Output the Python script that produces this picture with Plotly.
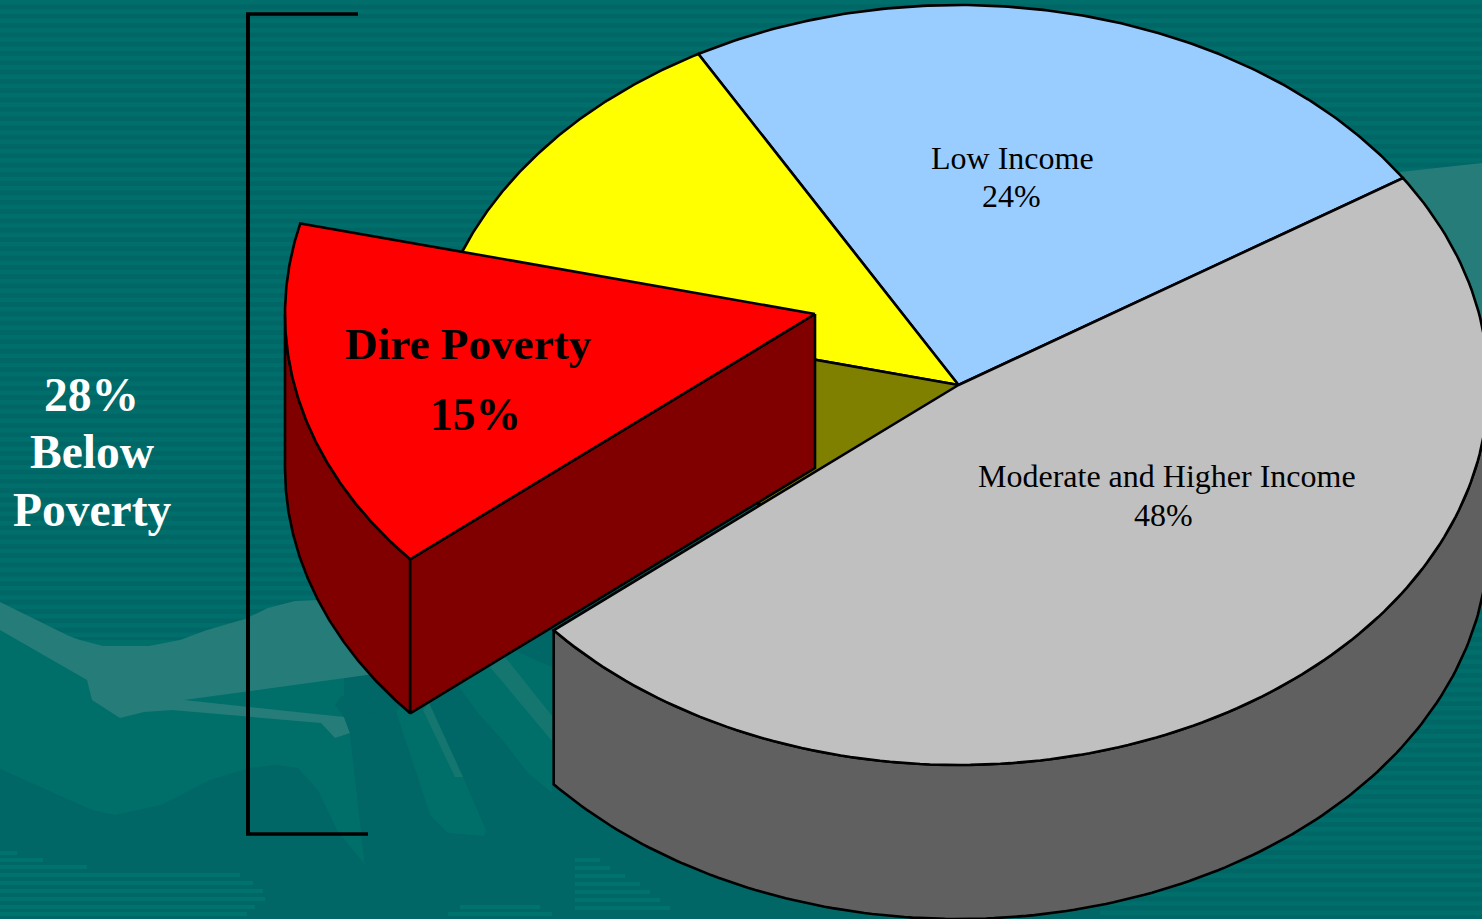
import numpy as np
import plotly.graph_objects as go

# ---- data (clockwise from the right-hand edge of the grey slice)
categories = ["Moderate and Higher Income", "Dire Poverty", "Other Below Poverty", "Low Income"]
values = [48, 15, 13, 24]
below_poverty_total = 28

top_colors = {"Moderate and Higher Income": "#C0C0C0", "Dire Poverty": "#FF0000",
              "Other Below Poverty": "#FFFF00", "Low Income": "#99CCFF"}
side_colors = {"Moderate and Higher Income": "#606060", "Dire Poverty": "#800000",
               "Other Below Poverty": "#808000", "Low Income": "#4C6680"}

# ---- projection of the tilted pie, in page pixels
CX, CY, RX, RY, DEPTH = 958.5, 385, 530, 380, 154
EXPLODE = (-143.5, -71)
START = 33.0
W, H = 1482, 919
EDGE = "#000000"

angles = {}
a = START
for c, v in zip(categories, values):
    angles[c] = (a, a - v * 3.6)
    a -= v * 3.6


def rim(a0, a1, off=(0, 0), dz=0, n=160):
    t = np.radians(np.linspace(a0, a1, n))
    return CX + off[0] + RX * np.cos(t), CY + off[1] - RY * np.sin(t) + dz


def add_poly(fig, x, y, color, lw=2.6):
    fig.add_trace(go.Scatter(x=np.r_[x, x[0]], y=np.r_[y, y[0]], mode="lines", fill="toself",
                             fillcolor=color, line=dict(color=EDGE, width=lw),
                             hoverinfo="skip", showlegend=False))


def top(fig, c, off=(0, 0)):
    a0, a1 = angles[c]
    x, y = rim(a0, a1, off)
    add_poly(fig, np.r_[CX + off[0], x], np.r_[CY + off[1], y], top_colors[c])


def outer_wall(fig, c, a0, a1, off=(0, 0)):
    x, y = rim(a0, a1, off)
    x2, y2 = rim(a1, a0, off, DEPTH)
    add_poly(fig, np.r_[x, x2], np.r_[y, y2], side_colors[c])


def cut_wall(fig, c, ang, off=(0, 0)):
    x, y = rim(ang, ang, off, n=1)
    cx, cy = CX + off[0], CY + off[1]
    add_poly(fig, np.r_[cx, x, x, cx], np.r_[cy, y, y + DEPTH, cy + DEPTH], side_colors[c])


fig = go.Figure()
grey, red, yellow, blue = categories[0], categories[1], categories[2], categories[3]

top(fig, blue)
top(fig, yellow)
cut_wall(fig, yellow, angles[yellow][0])
outer_wall(fig, grey, angles[grey][1], 0)
top(fig, grey)
outer_wall(fig, red, angles[red][0], -180, EXPLODE)
cut_wall(fig, red, angles[red][0], EXPLODE)
top(fig, red, EXPLODE)

# ---- template background
DARK, LIGHT, MID, LOW, WISP, WISP2 = "#006666", "#006E6B", "#006F6A", "#00736E", "#267C78", "#157670"


def poly_path(pts):
    return "M" + "L".join(f"{x},{y}" for x, y in pts) + "Z"


stripe_y = np.arange(0, 650, 9.3)
stripes = "".join(f"M0,{y:.1f}H{W}V{y + 4.6:.1f}H0Z" for y in stripe_y)
stripes += "".join(f"M1100,{y:.1f}H{W}V{y + 4.6:.1f}H1100Z" for y in np.arange(650.1, H, 9.3))
low_widths = [(851, 17), (858, 43), (865, 87), (873, 240), (881, 253), (889, 263), (897, 265),
              (905, 255), (912, 247)]
low_stripes = "".join(f"M0,{y}H{w}V{y + 4:.0f}H0Z" for y, w in low_widths)
low_stripes += "".join(f"M{x0},{y}H{x1}V{y + 4}H{x0}Z"
                       for y, x0, x1 in [(905, 460, 540), (912, 448, 552), (858, 575, 600),
                                         (866, 575, 610), (874, 575, 625), (882, 575, 640),
                                         (890, 575, 650), (898, 575, 660), (906, 575, 670)])

mid_low = [(0, 620), (0, 769), (92, 810), (115, 815), (161, 805), (210, 780), (249, 768),
           (276, 765), (298, 768), (318, 790), (337, 830), (365, 865), (350, 733), (344, 700),
           (344, 640), (60, 640)]
mid_ray = [(396, 712), (430, 815), (448, 833), (484, 836), (486, 830), (463, 777), (429, 703),
           (410, 690)]
mid_right = [(459, 687), (478, 713), (505, 743), (528, 773), (552, 793), (552, 625), (470, 650)]
wisp_left = [(0, 602), (69, 636), (80, 640), (103, 646), (149, 646), (180, 640), (207, 630),
             (245, 619), (268, 608), (295, 601), (318, 600), (400, 598), (400, 670), (367, 675),
             (184, 700), (344, 717), (350, 733), (335, 738), (321, 723), (172, 710), (144, 712),
             (120, 718), (92, 700), (87, 680), (0, 630)]
wisp_right = [(1400, 172), (W, 163), (W, 360), (1430, 300)]
streak_a = [(505, 657), (552, 716), (552, 741), (490, 667)]
streak_b = [(423, 710), (455, 777), (463, 777), (429, 703)]
dark_wedge = [(505, 640), (552, 620), (552, 667), (520, 653)]
dark_blob = [(335, 705), (342, 695), (356, 708), (375, 715), (396, 712), (430, 815), (365, 865),
             (350, 733), (344, 717)]

shapes = [
    dict(type="path", path=stripes, fillcolor=LIGHT, line_width=0, layer="below"),
    dict(type="path", path=low_stripes, fillcolor=LOW, line_width=0, layer="below"),
    dict(type="path", path=poly_path(mid_low), fillcolor=MID, line_width=0, layer="below"),
    dict(type="path", path=poly_path(mid_ray), fillcolor=MID, line_width=0, layer="below"),
    dict(type="path", path=poly_path(mid_right), fillcolor=MID, line_width=0, layer="below"),
    dict(type="path", path=poly_path(dark_wedge), fillcolor=DARK, line_width=0, layer="below"),
    dict(type="path", path=poly_path(wisp_left), fillcolor=WISP, line_width=0, layer="below"),
    dict(type="path", path=poly_path(dark_blob), fillcolor=DARK, line_width=0, layer="below"),
    dict(type="path", path=poly_path(wisp_right), fillcolor=WISP, line_width=0, layer="below"),
    dict(type="path", path=poly_path(streak_a), fillcolor=WISP2, line_width=0, layer="below"),
    dict(type="path", path=poly_path(streak_b), fillcolor=WISP2, line_width=0, layer="below"),
    # bracket
    dict(type="line", x0=248, x1=248, y0=14, y1=834, line=dict(color="black", width=4), layer="above"),
    dict(type="line", x0=246, x1=358, y0=14, y1=14, line=dict(color="black", width=3.5), layer="above"),
    dict(type="line", x0=246, x1=368, y0=834, y1=834, line=dict(color="black", width=3.5), layer="above"),
]

SERIF = "Liberation Serif"


def note(x, y, text, size, color="black", bold=False):
    return dict(x=x, y=y, xref="x", yref="y", text=f"<b>{text}</b>" if bold else text,
                showarrow=False, xanchor="center", yanchor="middle",
                font=dict(family=SERIF, size=size, color=color))


annotations = [
    note(1012, 158, blue, 32),
    note(1011, 196, f"{values[3]}%", 32),
    note(1167, 476, grey, 32),
    note(1163, 515, f"{values[0]}%", 32),
    note(468.5, 344, red, 45.2, bold=True),
    note(475.5, 414, f"{values[1]}%", 45.5, bold=True),
    note(91, 395, f"{below_poverty_total}%", 47.5, "white", True),
    note(92, 452, "Below", 47.5, "white", True),
    note(92, 510, "Poverty", 47.5, "white", True),
]

fig.update_layout(
    width=W, height=H, margin=dict(l=0, r=0, t=0, b=0), autosize=False,
    paper_bgcolor=DARK, plot_bgcolor=DARK, showlegend=False,
    xaxis=dict(range=[0, W], visible=False, fixedrange=True),
    yaxis=dict(range=[H, 0], visible=False, fixedrange=True),
    shapes=shapes, annotations=annotations,
)
fig.write_html("out.html", config=dict(displayModeBar=False),
               post_script="document.body.style.margin='0';document.body.style.overflow='hidden';")
